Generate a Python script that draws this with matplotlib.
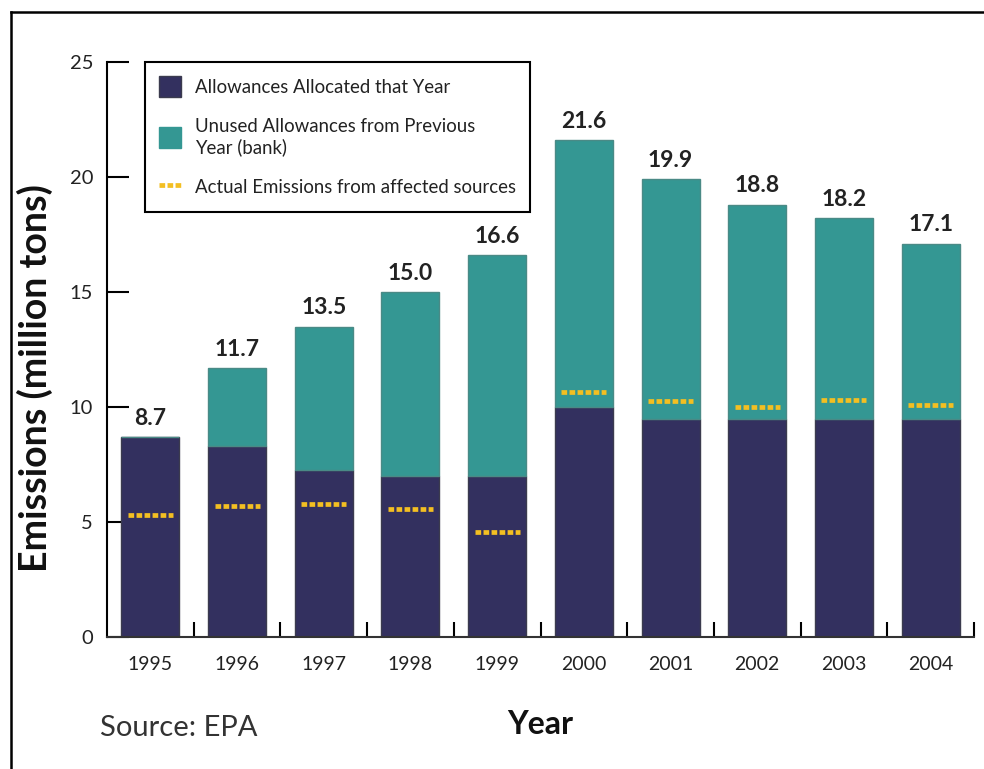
import matplotlib
matplotlib.use("Agg")
import matplotlib.pyplot as plt
from matplotlib.lines import Line2D
from matplotlib.patches import Patch
import numpy as np

years = ["1995", "1996", "1997", "1998", "1999", "2000", "2001", "2002", "2003", "2004"]
allocated = [8.7, 8.3, 7.25, 7.0, 7.0, 10.0, 9.5, 9.5, 9.5, 9.5]
totals = [8.7, 11.7, 13.5, 15.0, 16.6, 21.6, 19.9, 18.8, 18.2, 17.1]
emissions = [5.3, 5.7, 5.8, 5.55, 4.55, 10.65, 10.25, 10.0, 10.3, 10.1]
total_labels = ["8.7", "11.7", "13.5", "15.0", "16.6", "21.6", "19.9", "18.8", "18.2", "17.1"]
yticks = [0, 5, 10, 15, 20, 25]

NAVY = "#33305f"
TEAL = "#349793"
GOLD = "#f3bf22"

plt.rcParams['font.family'] = ['Lato', 'DejaVu Sans']

fig = plt.figure(figsize=(9.84, 7.69), dpi=100)
ax = fig.add_axes([107/984, 1 - 637/769, (974 - 107)/984, (637 - 62)/769])

x = np.arange(len(years))
bank = [t - a for t, a in zip(totals, allocated)]
w = 0.67
ax.bar(x, allocated, width=w, color=NAVY, edgecolor="#3b3b4e", linewidth=1.0, zorder=2)
ax.bar(x, bank, bottom=allocated, width=w, color=TEAL, edgecolor="#4a8a86", linewidth=1.0, zorder=2)
ax.hlines(emissions, x - 0.26, x + 0.26, colors=GOLD, linewidth=3.4,
          linestyles=(0, (1.2, 0.5)), zorder=3)

for xi, t, lab in zip(x, totals, total_labels):
    ax.annotate(lab, (xi, t), xytext=(0, 6), textcoords="offset points",
                ha="center", va="bottom", fontsize=16.5, fontweight="bold", color="#222222")

ax.set_xlim(-0.5, len(years) - 0.5)
ax.set_ylim(0, 25)
ax.set_yticks(yticks)
ax.set_yticklabels([str(v) for v in yticks])
ax.set_xticks(x)
ax.set_xticklabels(years)
ax.set_xticks(np.arange(len(years)) + 0.5, minor=True)
ax.tick_params(axis="x", which="major", length=0, pad=14, labelsize=14, labelcolor="#222222")
ax.tick_params(axis="x", which="minor", direction="in", length=11, width=1.5, color="black")
ax.tick_params(axis="y", direction="in", length=16, width=1.5, pad=10, labelsize=14.5, labelcolor="#222222")

for s in ["top", "right"]:
    ax.spines[s].set_visible(False)
ax.spines["left"].set_linewidth(1.5)
ax.spines["bottom"].set_linewidth(1.5)
ax.spines["bottom"].set_color("#333333")

ax.set_ylabel("Emissions (million tons)", fontsize=27, fontweight="bold", color="#111111")
ax.yaxis.set_label_coords(-0.062, 0.45)

handles = [Patch(facecolor=NAVY, edgecolor="#3b3b4e"),
           Patch(facecolor=TEAL, edgecolor=TEAL),
           Line2D([0], [0], color=GOLD, lw=3.4, linestyle=(0, (1.2, 0.5)))]
labels = ["Allowances Allocated that Year",
          "Unused Allowances from Previous\nYear (bank)",
          "Actual Emissions from affected sources"]
leg = ax.legend(handles, labels, loc="upper left", bbox_to_anchor=(38/867, 1.0),
                fontsize=13.4, frameon=True, fancybox=False, edgecolor="black",
                handlelength=1.2, handleheight=1.4, handletextpad=0.75,
                borderpad=0.75, labelspacing=1.1, framealpha=1, borderaxespad=0)
leg.get_frame().set_linewidth(1.5)
for t in leg.get_texts():
    t.set_color("#222222")

fig.text(540/984, 1 - 724/769, "Year", ha="center", va="center", fontsize=23,
         fontweight="bold", color="#111111")
fig.text(100/984, 1 - 728/769, "Source: EPA", ha="left", va="center", fontsize=21,
         color="#333333")

fig.add_artist(Line2D([11/984, 1.0], [1 - 12/769, 1 - 12/769], transform=fig.transFigure,
                      color="black", lw=1.8))
fig.add_artist(Line2D([11/984, 11/984], [0, 1 - 12/769], transform=fig.transFigure,
                      color="black", lw=1.8))

fig.savefig("out.png", dpi=100)
